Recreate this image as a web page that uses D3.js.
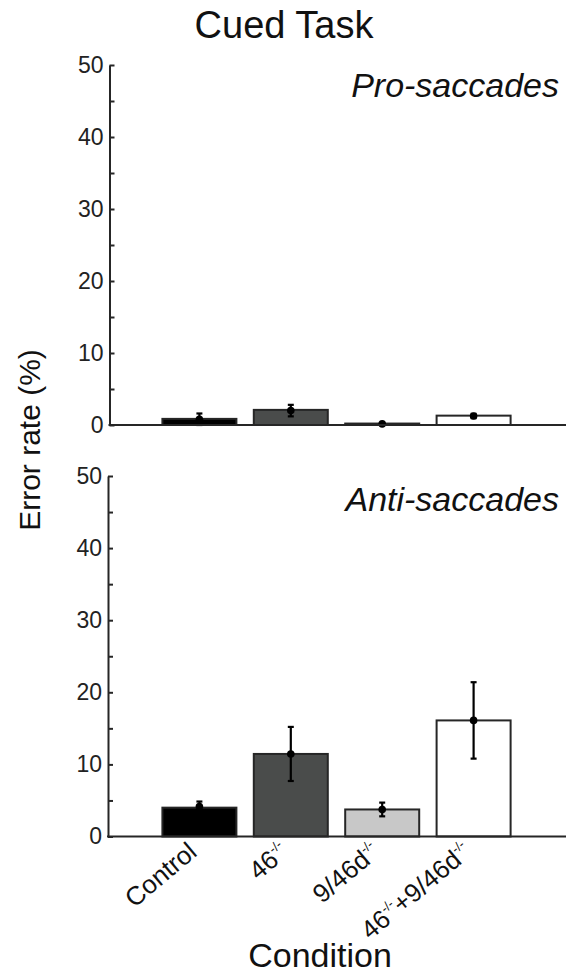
<!DOCTYPE html>
<html>
<head>
  <meta charset="UTF-8">
  <title>Cued Task</title>
  <script src="https://d3js.org/d3.v7.min.js"></script>
  <style>
    body {
      margin: 0;
      background: #fff;
      font-family: "Liberation Sans", Arial, sans-serif;
    }
    .axis path, .axis line {
      stroke: #262626;
      stroke-width: 2;
    }
    .axis text {
      font-size: 23px;
      fill: #222;
      font-family: "Liberation Sans", Arial, sans-serif;
    }
    .bar {
      stroke: #262626;
      stroke-width: 2;
    }
    .err {
      stroke: #000;
      stroke-width: 2.2;
    }
  </style>
</head>
<body>
  <div id="chart"></div>
  <script>
    // conditions, with the "-/-" parts written as superscripts
    const conditions = ["Control", "46", "9/46d", "46+9/46d"];
    const labelParts = [
      [["Control", false]],
      [["46", false], ["-/-", true]],
      [["9/46d", false], ["-/-", true]],
      [["46", false], ["-/-", true], ["+9/46d", false], ["-/-", true]]
    ];
    const fills = ["#000000", "#4a4c4b", "#c8c8c8", "#ffffff"];

    // pro-saccades panel
    const proBars = [0.85, 2.1, 0.2, 1.3];
    const proDots = [0.8, 2.0, 0.15, 1.25];
    const proErr = [0.8, 0.8, 0.1, 0.3];

    // anti-saccades panel
    const antiBars = [4.0, 11.45, 3.75, 16.1];
    const antiDots = [4.15, 11.45, 3.75, 16.1];
    const antiErr = [0.7, 3.75, 0.95, 5.3];

    const yTicks = d3.range(0, 51, 5);

    const W = 566, H = 974;
    const svg = d3.select("#chart").append("svg")
      .attr("width", W)
      .attr("height", H);

    const x = d3.scaleLinear().domain([0, 5]).range([108, 565]);
    const barW = 74;

    const drawPanel = (bars, dots, err, top, bottom, axisX, name, nameY) => {
      const y = d3.scaleLinear().domain([0, 50]).range([bottom, top]);
      const g = svg.append("g");

      g.selectAll(".bar")
        .data(bars)
        .enter()
        .append("rect")
        .attr("class", "bar")
        .attr("x", (d, i) => x(i + 1) - barW / 2)
        .attr("y", d => y(d))
        .attr("width", barW)
        .attr("height", d => y(0) - y(d))
        .attr("fill", (d, i) => fills[i]);

      // error bars
      g.selectAll(".err")
        .data(dots)
        .enter()
        .append("line")
        .attr("class", "err")
        .attr("x1", (d, i) => x(i + 1))
        .attr("x2", (d, i) => x(i + 1))
        .attr("y1", (d, i) => y(Math.max(0, d - err[i])))
        .attr("y2", (d, i) => y(d + err[i]));

      ["lo", "hi"].forEach(k => {
        g.selectAll(".cap-" + k)
          .data(dots)
          .enter()
          .append("line")
          .attr("class", "err")
          .attr("x1", (d, i) => x(i + 1) - 3)
          .attr("x2", (d, i) => x(i + 1) + 3)
          .attr("y1", (d, i) => y(k === "lo" ? Math.max(0, d - err[i]) : d + err[i]))
          .attr("y2", (d, i) => y(k === "lo" ? Math.max(0, d - err[i]) : d + err[i]));
      });

      g.selectAll(".dot")
        .data(dots)
        .enter()
        .append("circle")
        .attr("cx", (d, i) => x(i + 1))
        .attr("cy", d => y(d))
        .attr("r", 3.8)
        .attr("fill", "#000");

      const yAxis = d3.axisLeft(y)
        .tickValues(yTicks)
        .tickSizeInner(-5)
        .tickSizeOuter(0)
        .tickPadding(6)
        .tickFormat(d => d % 10 === 0 ? d : "");

      g.append("g")
        .attr("class", "axis")
        .attr("transform", `translate(${axisX},0)`)
        .call(yAxis);

      g.append("line")
        .attr("x1", axisX - 1)
        .attr("x2", W)
        .attr("y1", y(0))
        .attr("y2", y(0))
        .attr("stroke", "#262626")
        .attr("stroke-width", 2);

      g.append("text")
        .attr("x", 559)
        .attr("y", nameY)
        .attr("text-anchor", "end")
        .attr("font-size", 34)
        .attr("font-style", "italic")
        .attr("fill", "#111")
        .text(name);

      return y;
    };

    drawPanel(proBars, proDots, proErr, 65, 425, 109.5, "Pro-saccades", 97);
    const yAnti = drawPanel(antiBars, antiDots, antiErr, 476, 836.5, 108, "Anti-saccades", 511);

    // condition labels
    labelParts.forEach((parts, i) => {
      const t = svg.append("text")
        .attr("text-anchor", "end")
        .attr("font-size", 26)
        .attr("fill", "#111")
        .attr("transform", `translate(${x(i + 1) - 1},${yAnti(0) + 18}) rotate(-40)`);
      let raised = false;
      parts.forEach(([s, sup]) => {
        const ts = t.append("tspan").text(s);
        if (sup && !raised) { ts.attr("dy", -11).attr("font-size", 13); raised = true; }
        else if (sup) { ts.attr("font-size", 13); }
        else if (raised) { ts.attr("dy", 11); raised = false; }
      });
    });

    svg.append("text")
      .attr("x", 284)
      .attr("y", 38)
      .attr("text-anchor", "middle")
      .attr("font-size", 38)
      .attr("fill", "#111")
      .text("Cued Task");

    svg.append("text")
      .attr("transform", "translate(40,440) rotate(-90)")
      .attr("text-anchor", "middle")
      .attr("font-size", 30)
      .attr("fill", "#111")
      .text("Error rate (%)");

    svg.append("text")
      .attr("x", 320)
      .attr("y", 967)
      .attr("text-anchor", "middle")
      .attr("font-size", 34)
      .attr("fill", "#111")
      .text("Condition");
  </script>
</body>
</html>
